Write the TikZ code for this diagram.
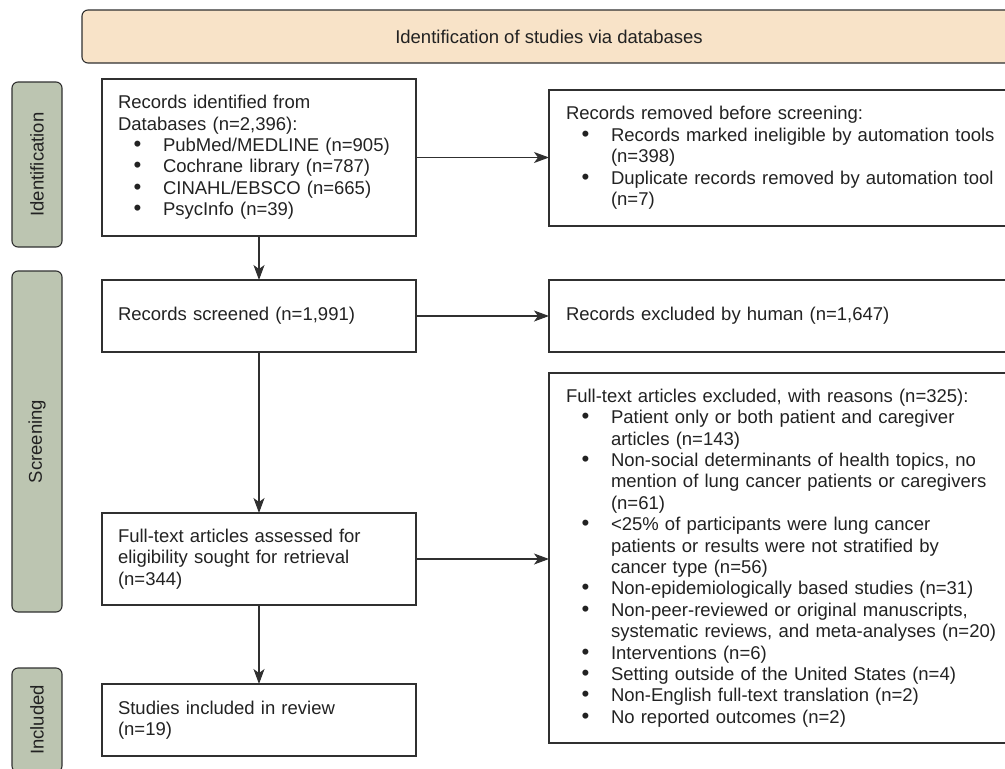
\documentclass[tikz,border=0pt]{standalone}
\usepackage{fontspec}
\setmainfont{Liberation Sans}
\usetikzlibrary{arrows.meta}
\definecolor{bannerfill}{HTML}{F8E3C8}
\definecolor{phasefill}{HTML}{BCC5B1}
\definecolor{edgegrey}{HTML}{303030}
\definecolor{textgrey}{HTML}{222222}
\setlength{\parindent}{0pt}
\newcommand{\blt}[1]{\par{\leftskip=45pt\noindent\llap{\smash{\scalebox{1.2}{\textbullet}}\hspace{21.5pt}}#1\par}}

\begin{document}
\begin{tikzpicture}[x=1pt,y=-1pt,
  every node/.style={font=\fontsize{18.5}{21.4}\selectfont,text=textgrey,outer sep=0pt},
  leftbox/.style={draw=edgegrey,line width=1.1pt,anchor=north west,inner xsep=16pt,inner ysep=0pt,text width=282pt,align=left},
  rightbox/.style={draw=edgegrey,line width=1.1pt,anchor=north west,inner xsep=17pt,inner ysep=0pt,text width=447pt,align=left},
  phase/.style={draw=edgegrey,fill=phasefill,line width=1.1pt,rounded corners=6pt,rotate=90,minimum height=50pt,inner sep=0pt},
  flow/.style={draw=edgegrey,line width=1.1pt,-{Stealth[length=15pt,width=11pt,inset=4pt]}}]
\useasboundingbox (0,0) rectangle (1005,769);
\clip (0,0) rectangle (1005,769);
\node[draw=edgegrey,fill=bannerfill,line width=1.1pt,rounded corners=6pt,minimum width=934pt,minimum height=53pt] (banner) at (549,36.5) {Identification of studies via databases};
\node[phase,minimum width=165pt] (phaseid) at (37,164.5) {Identification};
\node[phase,minimum width=341pt] (phasescr) at (37,441.5) {Screening};
\node[phase,minimum width=104pt] (phaseinc) at (37,720) {Included};
\node[leftbox,minimum height=157pt] (recid) at (102,79) {Records identified from\newline Databases (n=2,396):
  \blt{PubMed/MEDLINE (n=905)}
  \blt{Cochrane library (n=787)}
  \blt{CINAHL/EBSCO (n=665)}
  \blt{PsycInfo (n=39)}};
\node[rightbox,minimum height=136pt] (recrem) at (549,90) {Records removed before screening:
  \blt{Records marked ineligible by automation tools\newline (n=398)}
  \blt{Duplicate records removed by automation tool\newline (n=7)}};
\node[leftbox,minimum height=72pt] (screened) at (102,280) {Records screened (n=1,991)};
\node[rightbox,minimum height=72pt] (excl) at (549,280) {Records excluded by human (n=1,647)};
\node[leftbox,minimum height=92pt] (fulltext) at (102,513) {Full-text articles assessed for\newline eligibility sought for retrieval\newline (n=344)};
\node[rightbox,minimum height=370pt] (ftexcl) at (549,373) {Full-text articles excluded, with reasons (n=325):
  \blt{Patient only or both patient and caregiver\newline articles (n=143)}
  \blt{Non-social determinants of health topics, no\newline mention of lung cancer patients or caregivers\newline (n=61)}
  \blt{<25\% of participants were lung cancer\newline patients or results were not stratified by\newline cancer type (n=56)}
  \blt{Non-epidemiologically based studies (n=31)}
  \blt{Non-peer-reviewed or original manuscripts,\newline systematic reviews, and meta-analyses (n=20)}
  \blt{Interventions (n=6)}
  \blt{Setting outside of the United States (n=4)}
  \blt{Non-English full-text translation (n=2)}
  \blt{No reported outcomes (n=2)}};
\node[leftbox,minimum height=72pt] (included) at (102,684) {Studies included in review\newline (n=19)};
\draw[flow] (recid.south) -- (screened.north);
\draw[flow] (recid.east) -- (recid.east -| recrem.west);
\draw[flow] (screened.east) -- (excl.west);
\draw[flow] (screened.south) -- (fulltext.north);
\draw[flow] (fulltext.east) -- (fulltext.east -| ftexcl.west);
\draw[flow] (fulltext.south) -- (included.north);
\end{tikzpicture}
\end{document}
